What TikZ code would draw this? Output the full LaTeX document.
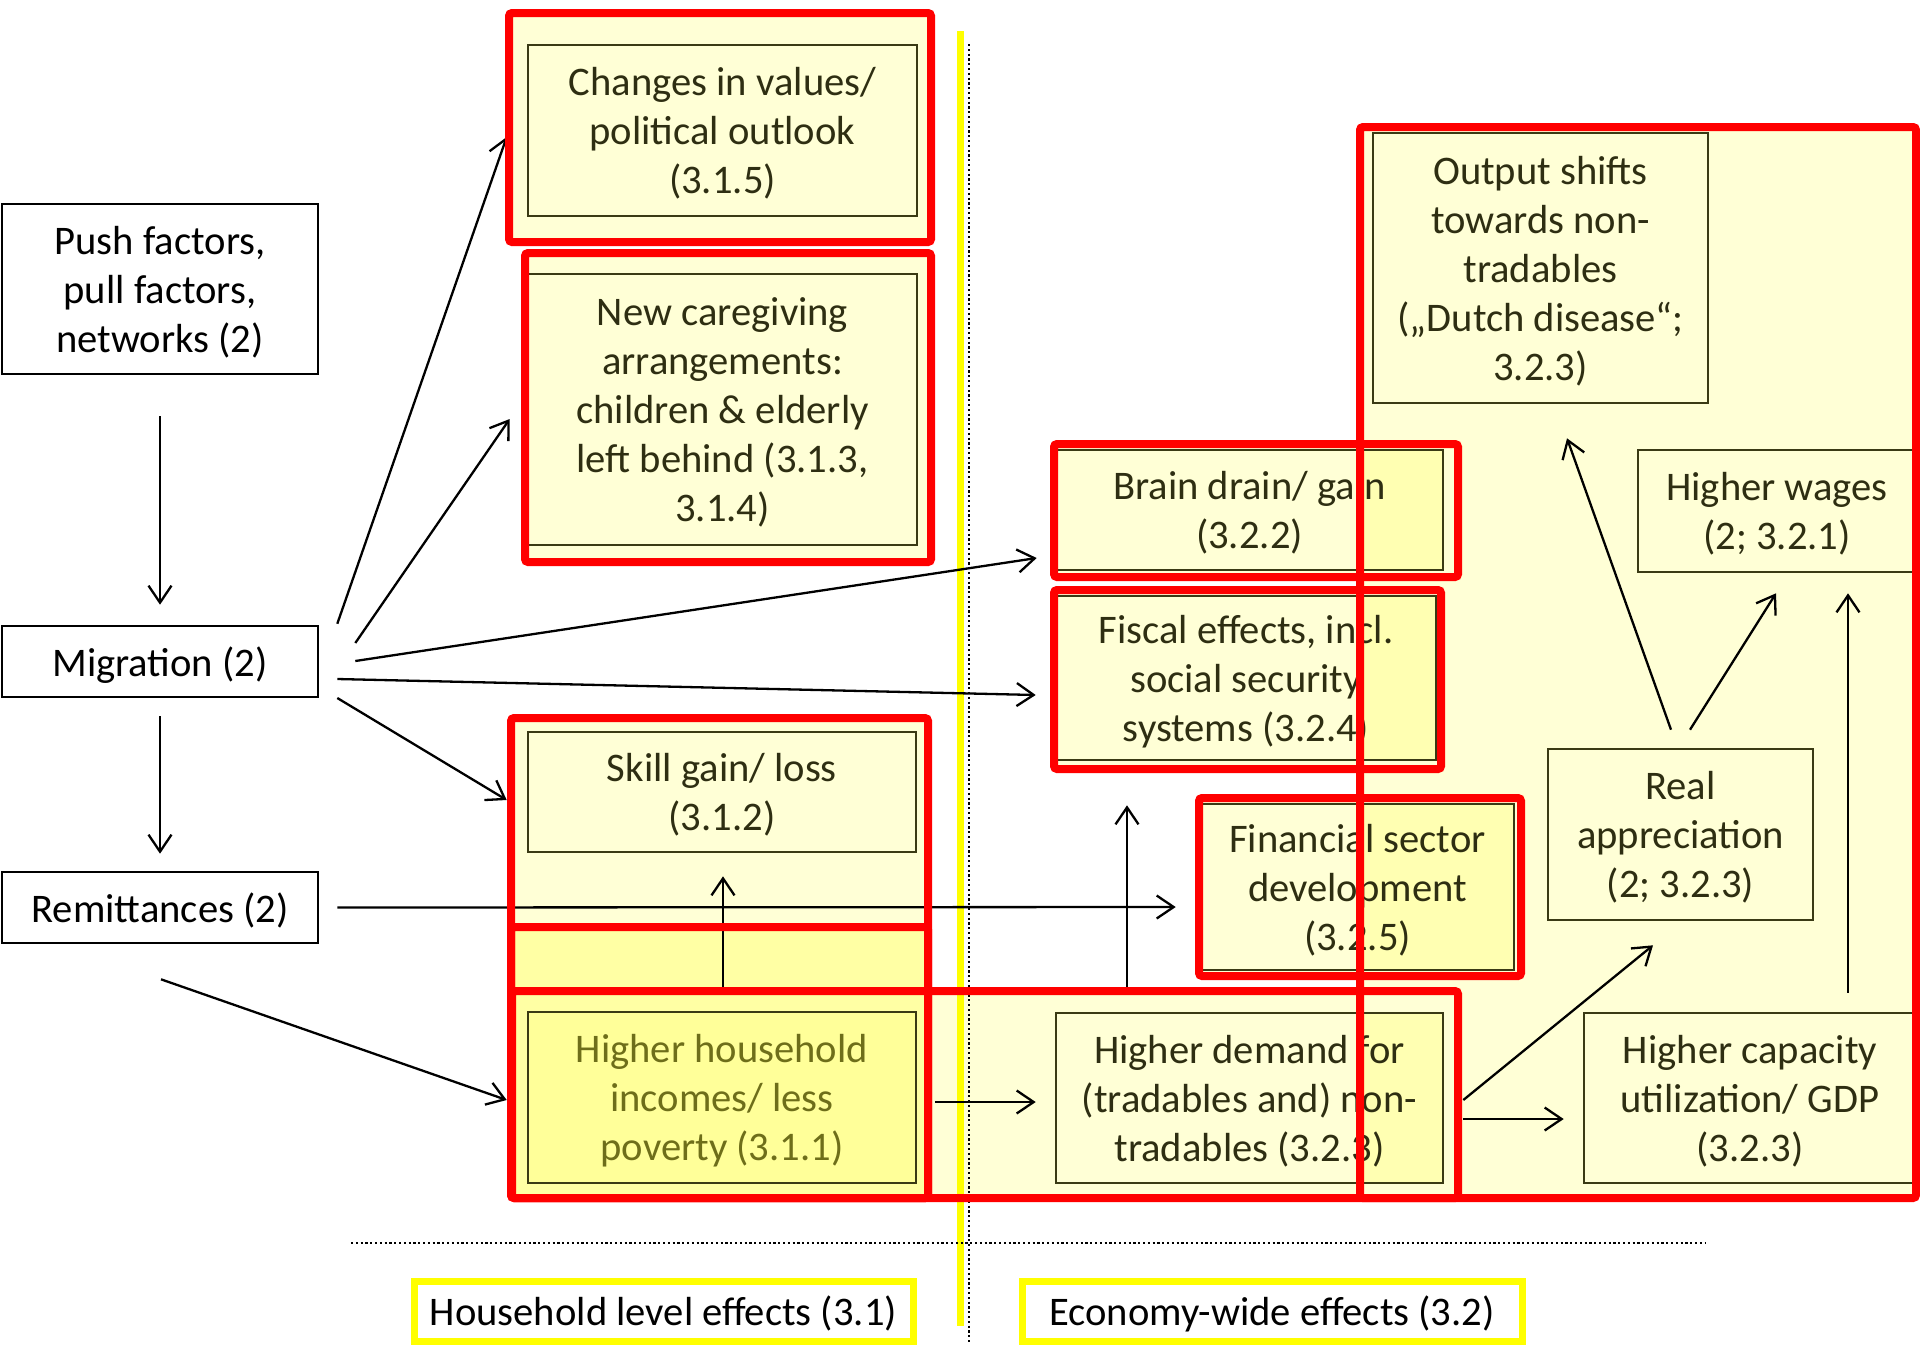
\documentclass[tikz,border=0pt]{standalone}
\usepackage{fontspec}
\setmainfont{Carlito}
\usetikzlibrary{arrows.meta,calc}
\pgfdeclarelayer{bg}
\pgfdeclarelayer{fg}
\pgfsetlayers{bg,main,fg}
\definecolor{pale}{HTML}{FFFFD6}
\definecolor{mid}{HTML}{FFFFB2}
\definecolor{strong}{HTML}{FFFFA4}
\definecolor{hhfill}{HTML}{FFFF99}
\definecolor{olive}{HTML}{3A3A14}
\definecolor{otext}{HTML}{2E2E12}
\definecolor{hhtext}{HTML}{6E6E1A}
\definecolor{hl}{HTML}{FF0000}
\definecolor{ylw}{HTML}{FFFF00}
\tikzset{
  box/.style={rectangle, draw=black, line width=1.3pt, align=center, inner sep=0pt,
    font=\fontsize{20.3}{24.5}\selectfont, text=black, text depth=0pt},
  ybox/.style={box, draw=olive, text=otext},
  arr/.style={-{Straight Barb[length=8.5pt,width=11.5pt]}, line width=1.15pt, black},
  hlbox/.style={draw=hl, line width=4pt, rounded corners=1.5pt},
  lab/.style={box, draw=ylw, line width=3.5pt, fill=white},
  dots/.style={line width=1.3pt, dash pattern=on 1.1pt off 1.3pt},
}
\begin{document}
\begin{tikzpicture}[x=0.5pt, y=-0.5pt]
\useasboundingbox (0,0) rectangle (1920,1344);

% left column
\node[box, minimum width=158pt, minimum height=85pt] (push) at (160,289) {Push factors,\\pull factors,\\networks (2)};
\node[box, minimum width=158pt, minimum height=35.5pt] (mig) at (160,661.5) {Migration (2)};
\node[box, minimum width=158pt, minimum height=35.5pt] (rem) at (160,907.5) {Remittances (2)};

% household column
\node[ybox, minimum width=194.5pt, minimum height=85.5pt] (changes) at (722.5,130.5) {Changes in values/\\political outlook\\(3.1.5)};
\node[ybox, minimum width=194.5pt, minimum height=135.5pt] (care) at (722.5,409.5) {New caregiving\\arrangements:\\children \& elderly\\left behind (3.1.3,\\3.1.4)};
\node[ybox, minimum width=194pt, minimum height=60pt] (skill) at (722,792) {Skill gain/ loss\\(3.1.2)};
\node[ybox, minimum width=194pt, minimum height=85.5pt, text=hhtext] (hh) at (722,1097.5) {Higher household\\incomes/ less\\poverty (3.1.1)};

% economy column
\node[ybox, minimum width=193.5pt, minimum height=60pt] (brain) at (1249.5,510) {Brain drain/ gain\\(3.2.2)};
\node[ybox, minimum width=190pt, minimum height=82pt] (fiscal) at (1246,678) {Fiscal effects, incl.\\social security\\systems (3.2.4)};
\node[ybox, minimum width=156.5pt, minimum height=83pt] (fin) at (1357.5,887) {Financial sector\\development\\(3.2.5)};
\node[ybox, minimum width=193.5pt, minimum height=85pt] (demand) at (1249.5,1098) {Higher demand for\\(tradables and) non-\\tradables (3.2.3)};
\node[ybox, minimum width=167.5pt, minimum height=135pt] (output) at (1540.5,268) {Output shifts\\towards non-\\tradables\\(„Dutch disease“;\\3.2.3)};
\node[ybox, minimum width=139pt, minimum height=61pt] (wages) at (1777,511) {Higher wages\\(2; 3.2.1)};
\node[ybox, minimum width=132.5pt, minimum height=85.5pt] (real) at (1680.5,834.5) {Real\\appreciation\\(2; 3.2.3)};
\node[ybox, minimum width=166pt, minimum height=85pt] (cap) at (1750,1098) {Higher capacity\\utilization/ GDP\\(3.2.3)};

% bottom labels
\node[lab, minimum width=249.5pt, minimum height=30pt] (hlab) at (663.5,1311) {Household level effects (3.1)};
\node[lab, minimum width=250pt, minimum height=30pt] (elab) at (1272,1311) {Economy-wide effects (3.2)};

% connectors
\draw[arr] ($(push.south)+(0,41)$) -- ($(mig.north)+(0,-20)$);
\draw[arr] ($(mig.south)+(0,18)$) -- ($(rem.north)+(0,-17)$);
\draw[arr] ($(mig.north east)+(18,-1)$) -- ($(changes.west)+(-20,6.5)$);
\draw[arr] ($(mig.east)+(36,-18.5)$) -- ($(care.west)+(-17,9.5)$);
\draw[arr] ($(mig.east)+(36,-0.5)$) -- ($(brain.west)+(-18,48)$);
\draw[arr] ($(mig.east)+(18,17.5)$) -- ($(fiscal.west)+(-19,17)$);
\draw[arr] ($(mig.east)+(18,36.5)$) -- ($(skill.west)+(-20,8)$);
\draw[arr] ($(rem.east)+(18,0)$) -- ($(fin.west)+(-24,20)$);
\draw[arr] ($(rem.south)+(1,35)$) -- ($(hh.west)+(-20,2.5)$);
\draw[arr] ($(hh.north)+(1,-17)$) -- ($(skill.south)+(1,23)$);
\draw[arr] ($(hh.east)+(18,4.5)$) -- ($(demand.west)+(-19,4)$);
\draw[arr] ($(demand.north)+(-122.5,-25)$) -- ($(fiscal.south)+(-119,44)$);
\draw[arr] ($(demand.east)+(19,2)$) -- ($(real.south)+(-27.5,24)$);
\draw[arr] ($(demand.east)+(19,21)$) -- ($(cap.west)+(-19,21)$);
\draw[arr] ($(real.north)+(-9.5,-18)$) -- ($(output.south)+(26.5,34)$);
\draw[arr] ($(real.north)+(9.5,-18)$) -- ($(wages.south)+(-1,20)$);
\draw[arr] ($(cap.north)+(98,-19)$) -- ($(wages.south)+(71,20)$);

% background fills and guide lines
\begin{pgfonlayer}{bg}
  \fill[pale] (1360,127) rectangle (1916,1198);
  \fill[pale] (512,991) rectangle (1458,1198);
  \fill[pale] (509,13) rectangle (931,242);
  \fill[pale] (525,253) rectangle (931,562);
  \fill[pale] (511,718) rectangle (928,927);
  \fill[strong] (511,927) rectangle (928,1198);
  \fill[pale] (1054,444) rectangle (1458,577);
  \fill[pale] (1054,590) rectangle (1441,769);
  \fill[pale] (1199,798) rectangle (1521,976);
  \foreach \n in {changes,care,skill,brain,fiscal,fin,demand,output,wages,real,cap}
    \fill[pale] (\n.south west) rectangle (\n.north east);
  \fill[hhfill] (hh.south west) rectangle (hh.north east);
  \begin{scope}
    \clip (1360,127) rectangle (1916,1198);
    \foreach \n in {brain,fiscal,fin,demand}
      \fill[mid] (\n.south west) rectangle (\n.north east);
  \end{scope}
  \draw[ylw, line width=3.5pt] (960,31) -- (960,1326);
  \draw[dots] (969,44) -- (969,1344);
  \draw[dots] (351,1243) -- (1706,1243);
\end{pgfonlayer}

% red highlight frames
\begin{pgfonlayer}{fg}
  \draw[hlbox] (509,13) rectangle (931,242);
  \draw[hlbox] (525,253) rectangle (931,562);
  \draw[hlbox] (511,718) rectangle (928,1198);
  \draw[hlbox] (511,927) rectangle (928,1198);
  \draw[hlbox] (512,991) rectangle (1458,1198);
  \draw[hlbox] (1054,444) rectangle (1458,577);
  \draw[hlbox] (1054,590) rectangle (1441,769);
  \draw[hlbox] (1199,798) rectangle (1521,976);
  \draw[hlbox] (1360,127) rectangle (1916,1198);
\end{pgfonlayer}
\end{tikzpicture}
\end{document}
